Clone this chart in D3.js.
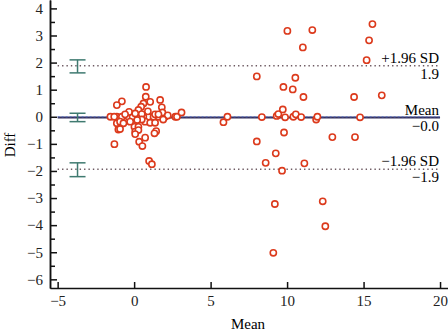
<!DOCTYPE html>
<html>
<head>
<meta charset="utf-8">
<script src="https://cdn.jsdelivr.net/npm/d3@7"></script>
<style>
  body { margin: 0; background: #fff; }
  svg text { font-family: "Liberation Serif", "DejaVu Serif", serif; }
</style>
</head>
<body>
<div id="chart"></div>
<script>
// mean of the two methods (x) and their difference (y)
var meanVals = [
    -1.55, -1.13, -0.8, -0.37, 0.07, 0.4, 0.94, 1.27, 2.03, 2.69, 2.8, -1.3, -0.1, 0.6, 1.6, 0.25,
    0.78, 0.76, -0.8, -1.13, 1.7, 1.05, 0.61, 0.46, 1.81, 0.28, -0.33, 1.85, 3.1, 1.37, 1.59, 0.07, -0.59, 0.9, 0.5, 2.2,
    -1.13, -0.92, -0.7, -0.26, 0.02, 0.28, 0.72, 1.05, 1.37, -1.03, 0.07, 0.28, 0.72, 1.44, 1.33, 0.07, 0.33, 0.54, 0.98, 1.16, -1.29, -0.92, 0.5, 1.9, 0.2,
    5.84, 6.1, 8.02, 8.02, 8.35, 8.6, 9.1, 9.2, 9.26, 9.32, 9.43, 9.67, 9.72, 9.76, 9.8, 9.87, 10.02, 10.37, 10.41,
    10.54, 10.57, 10.92, 11.03, 11.07, 11.13, 11.65, 11.9, 11.98, 12.33, 12.5, 12.96, 14.38, 14.44, 14.77, 15.2, 15.36, 15.58, 16.19
];
var diffVals = [
    0, 0, 0, 0, 0, 0, 0, 0, 0, 0, 0, 0, 0, 0, 0, 0,
    1.1, 0.74, 0.57, 0.43, 0.62, 0.55, 0.49, 0.37, 0.35, 0.25, 0.18, 0.16, 0.16, 0.09, 0.09, 0.12, 0.09, 0.2, 0.1, 0.05,
    -0.24, -0.18, -0.24, -0.18, -0.37, -0.37, -0.18, -0.22, -0.22, -0.47, -0.55, -0.49, -0.77, -0.53, -0.61, -0.64, -0.92, -1.08, -1.63, -1.75, -1.01, -0.45, -0.1, -0.1, -0.12,
    -0.2, 0.0, 1.49, -0.91, -0.01, -1.7, -5.02, -3.22, -1.35, 0.03, 0.1, -1.99, 0.27, 1.1, -0.58, -0.02, 3.17, 1.01, 0.0,
    1.44, 0.09, -0.01, 2.56, 0.73, -1.72, 3.2, -0.1, 0.0, -3.12, -4.04, -0.75, 0.73, -0.75, -0.02, 2.09, 2.82, 3.42, 0.79
];

// limits of agreement
var lineNames = ["+1.96 SD", "Mean", "\u22121.96 SD"];
var lineValues = [1.88, -0.03, -1.94];
var lineLabels = ["1.9", "\u22120.0", "\u22121.9"];

// confidence intervals of the limits
var ciLow = [1.62, -0.18, -2.21];
var ciHigh = [2.1, 0.13, -1.7];
var ciX = -3.7;

var xTicks = [-5, 0, 5, 10, 15, 20];
var yTicks = [-6, -5, -4, -3, -2, -1, 0, 1, 2, 3, 4];
var yMinor = [-5.5, -4.5, -3.5, -2.5, -1.5, -0.5, 0.5, 1.5, 2.5, 3.5];

var width = 448;
var height = 331;
var left = 50;
var bottom = 288;

var svg = d3.select('#chart')
    .append('svg')
    .attr('width', width)
    .attr('height', height);

var xscale = d3.scaleLinear()
    .domain([-5.5, 20.52])
    .range([left, width]);

var yscale = d3.scaleLinear()
    .domain([-6.32, 4.31])
    .range([bottom, 0]);

var points = meanVals.map(function (m, i) {
    return { x: m, y: diffVals[i] };
});

// reference lines
var lineStyles = [
    { stroke: "#6e5a62", width: 1.5, dash: "1.4,3" },
    { stroke: "#34305e", width: 2, dash: null },
    { stroke: "#6e5a62", width: 1.5, dash: "1.4,3" }
];

lineValues.forEach(function (v, i) {
    var s = lineStyles[i];
    svg.append("line")
        .attr("x1", xscale(-5))
        .attr("x2", xscale(20))
        .attr("y1", yscale(v))
        .attr("y2", yscale(v))
        .attr("stroke", s.stroke)
        .attr("stroke-width", s.width)
        .attr("stroke-dasharray", s.dash);
});

// dashed blue on top of mean line
svg.append("line")
    .attr("x1", xscale(-5))
    .attr("x2", xscale(20))
    .attr("y1", yscale(0))
    .attr("y2", yscale(0))
    .attr("stroke", "#5f78c8")
    .attr("stroke-width", 1)
    .attr("stroke-dasharray", "2,2");

// CI bars
var ci = svg.append("g").attr("stroke", "#3f7a70").attr("stroke-width", 1.5);
ciLow.forEach(function (lo, i) {
    var cx = xscale(ciX);
    ci.append("line")
        .attr("x1", cx).attr("x2", cx)
        .attr("y1", yscale(lo)).attr("y2", yscale(ciHigh[i]));
    [lo, ciHigh[i]].forEach(function (v) {
        ci.append("line")
            .attr("x1", cx - 8).attr("x2", cx + 8)
            .attr("y1", yscale(v)).attr("y2", yscale(v));
    });
});

// points
svg.append("g")
    .selectAll("circle")
    .data(points)
    .enter()
    .append("circle")
    .attr("cx", function (d) { return xscale(d.x); })
    .attr("cy", function (d) { return yscale(d.y); })
    .attr("r", 3.1)
    .attr("fill", "#fff")
    .attr("stroke", "#dc3a1c")
    .attr("stroke-width", 1.6);

// line labels at right
lineValues.forEach(function (v, i) {
    svg.append("text")
        .attr("x", 439)
        .attr("y", yscale(v) - 3)
        .style("text-anchor", "end")
        .style("font-size", "15px")
        .text(lineNames[i]);
    svg.append("text")
        .attr("x", 439)
        .attr("y", yscale(v) + 13)
        .style("text-anchor", "end")
        .style("font-size", "15px")
        .text(lineLabels[i]);
});

// axes
var yaxis = d3.axisLeft(yscale)
    .tickValues(yTicks)
    .tickSizeInner(-7)
    .tickSizeOuter(0)
    .tickPadding(7);

var yminor = d3.axisLeft(yscale)
    .tickValues(yMinor)
    .tickSizeInner(-5)
    .tickSizeOuter(0)
    .tickFormat("");

var xaxis = d3.axisBottom(xscale)
    .tickValues(xTicks)
    .tickSizeInner(-6)
    .tickSizeOuter(0)
    .tickPadding(7);

svg.append("g")
    .attr("transform", "translate(" + left + ",0)")
    .call(yaxis);
svg.append("g")
    .attr("transform", "translate(" + left + ",0)")
    .call(yminor);
svg.append("g")
    .attr("transform", "translate(0," + bottom + ")")
    .call(xaxis);

svg.selectAll(".domain, .tick line")
    .attr("stroke", "#111")
    .attr("stroke-width", 1.5);
svg.selectAll(".tick text")
    .style("font-family", "Liberation Serif, serif")
    .style("font-size", "15px")
    .attr("fill", "#222");

// axis titles
svg.append("text")
    .attr("x", 248)
    .attr("y", 329)
    .style("text-anchor", "middle")
    .style("font-size", "15px")
    .text("Mean");

svg.append("text")
    .attr("transform", "translate(15,145) rotate(-90)")
    .style("text-anchor", "middle")
    .style("font-size", "15px")
    .text("Diff");
</script>
</body>
</html>
